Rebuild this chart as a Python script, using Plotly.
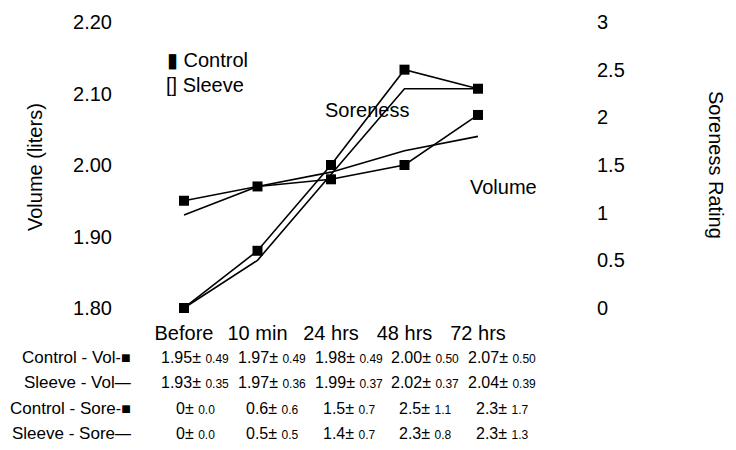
import plotly.graph_objects as go

categories = ["Before", "10 min", "24 hrs", "48 hrs", "72 hrs"]
control_vol = [1.95, 1.97, 1.98, 2.00, 2.07]
control_vol_sd = [0.49, 0.49, 0.49, 0.50, 0.50]
sleeve_vol = [1.93, 1.97, 1.99, 2.02, 2.04]
sleeve_vol_sd = [0.35, 0.36, 0.37, 0.37, 0.39]
control_sore = [0, 0.6, 1.5, 2.5, 2.3]
control_sore_sd = [0.0, 0.6, 0.7, 1.1, 1.7]
sleeve_sore = [0, 0.5, 1.4, 2.3, 2.3]
sleeve_sore_sd = [0.0, 0.5, 0.7, 0.8, 1.3]
vol_ticks = [1.80, 1.90, 2.00, 2.10, 2.20]
sore_ticks = [0, 0.5, 1, 1.5, 2, 2.5, 3]

FONT = "Liberation Sans, Arial, sans-serif"
W, H = 736, 450
ML, MR, MT, MB = 120, 146, 12, 132

fig = go.Figure()
line = dict(color="black", width=1.6)
mk = dict(symbol="square", size=10, color="black")
fig.add_trace(go.Scatter(x=categories, y=control_vol, mode="lines+markers", line=line, marker=mk,
                         name="Control - Vol", cliponaxis=False))
fig.add_trace(go.Scatter(x=categories, y=sleeve_vol, mode="lines", line=line,
                         name="Sleeve - Vol", cliponaxis=False))
fig.add_trace(go.Scatter(x=categories, y=control_sore, mode="lines+markers", line=line, marker=mk,
                         name="Control - Sore", yaxis="y2", cliponaxis=False))
fig.add_trace(go.Scatter(x=categories, y=sleeve_sore, mode="lines", line=line,
                         name="Sleeve - Sore", yaxis="y2", cliponaxis=False))

annotations = []

def fmt_mean(v, dec):
    return "0" if v == 0 else f"{v:.{dec}f}"

rows = [
    ("Control - Vol", control_vol, control_vol_sd, 2, True),
    ("Sleeve - Vol", sleeve_vol, sleeve_vol_sd, 2, False),
    ("Control - Sore", control_sore, control_sore_sd, 1, True),
    ("Sleeve - Sore", sleeve_sore, sleeve_sore_sd, 1, False),
]
row_px = [357, 382, 408, 433]
plot_h = H - MT - MB
plot_w = W - ML - MR
for (label, means, sds, dec, has_marker), ypx in zip(rows, row_px):
    yp = 1 - (ypx - MT) / plot_h
    sym = "<span style='font-size:16px'>-■</span>" if has_marker else "<span style='font-size:16px'>—</span>"
    annotations.append(dict(xref="paper", yref="paper", x=(133 - ML) / plot_w, y=yp,
                            xanchor="right", yanchor="middle", showarrow=False,
                            text=label + sym, font=dict(size=17, family=FONT, color="black")))
    for i, (m, s) in enumerate(zip(means, sds)):
        annotations.append(dict(xref="x", yref="paper", x=i * 1.045 + 0.15, y=yp,
                                xanchor="center", yanchor="middle", showarrow=False,
                                text=f"{fmt_mean(m, dec)}± <span style='font-size:12px'>{s:.{dec}f}</span>",
                                font=dict(size=16, family=FONT, color="black")))

def note(xpx, ypx, text, size=20, angle=0, anchor="center"):
    annotations.append(dict(xref="paper", yref="paper", x=(xpx - ML) / plot_w, y=1 - (ypx - MT) / plot_h,
                            xanchor=anchor, yanchor="middle", showarrow=False, textangle=angle,
                            text=text, font=dict(size=size, family=FONT, color="black")))

note(165, 60, "▮ Control", anchor="left")
note(164, 85, "[] Sleeve", anchor="left")
note(367, 110, "Soreness")
note(503, 187, "Volume")
note(35, 167, "Volume (liters)", angle=-90)
note(716, 165, "Soreness Rating", angle=90)

px_per_cat = 73.5
x0 = -(184 - ML) / px_per_cat
x1 = (W - MR - 184) / px_per_cat

fig.update_layout(
    width=W, height=H,
    margin=dict(l=ML, r=MR, t=MT, b=MB, pad=0),
    paper_bgcolor="white", plot_bgcolor="white",
    showlegend=False,
    font=dict(family=FONT, size=20, color="black"),
    xaxis=dict(type="category", range=[x0, x1], showgrid=False, zeroline=False, showline=False,
               ticks="", tickfont=dict(size=20), ticklabelstandoff=1),
    yaxis=dict(range=[1.786, 2.214], tickvals=vol_ticks, tickformat=".2f", showgrid=False,
               zeroline=False, showline=False, ticks="", tickfont=dict(size=20), ticklabelstandoff=7),
    yaxis2=dict(range=[-0.105, 3.105], tickvals=sore_ticks, overlaying="y", side="right",
                showgrid=False, zeroline=False, showline=False, ticks="", tickfont=dict(size=20),
                ticklabelstandoff=6),
    annotations=annotations,
)

fig.write_html("out.html")
